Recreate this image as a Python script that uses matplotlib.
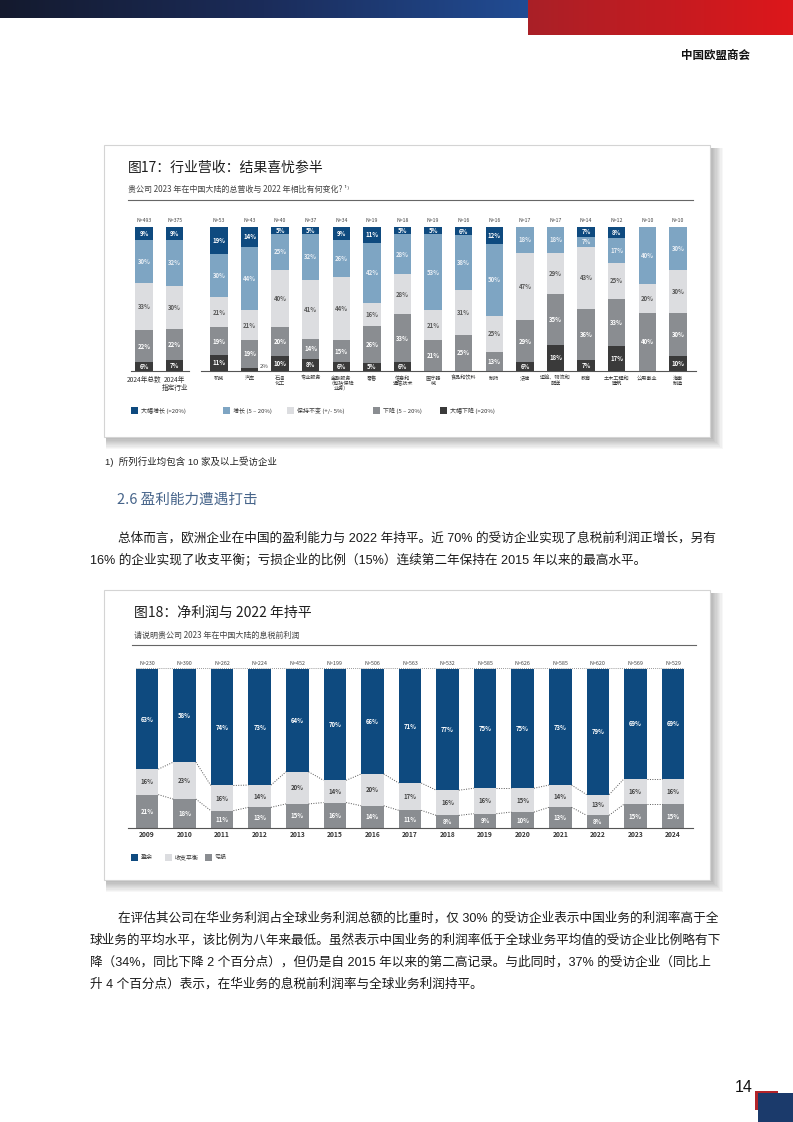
import numpy as np
import matplotlib.pyplot as plt
from matplotlib.patches import Rectangle
from matplotlib.colors import LinearSegmentedColormap

plt.rcParams['font.family'] = ['Noto Sans CJK SC', 'DejaVu Sans']

W, H = 793, 1122

# ---- 图17 数据 ----
industries = ['2024年总数', '2024年\n指定行业', '机械', '汽车', '石油\n化工', '专业服务',
              '金融服务\n（包括保险\n业务）', '零售', '信息和\n通信技术', '医疗器\n械',
              '食品和饮料', '制药', '法律', '运输、物流和\n配送', '教育', '土木工程和\n建筑',
              '公用事业', '海事\n制造']
n_17 = [493, 375, 53, 43, 40, 37, 34, 19, 18, 19, 16, 16, 17, 17, 14, 12, 10, 10]
big_growth = [9, 9, 19, 14, 5, 5, 9, 11, 5, 5, 6, 12, 0, 0, 7, 8, 0, 0]
growth = [30, 32, 30, 44, 25, 32, 26, 42, 28, 53, 38, 50, 18, 18, 7, 17, 40, 30]
unchanged = [33, 30, 21, 21, 40, 41, 44, 16, 28, 21, 31, 25, 47, 29, 43, 25, 20, 30]
decline = [22, 22, 19, 19, 20, 14, 15, 26, 33, 21, 25, 13, 29, 35, 36, 33, 40, 30]
big_decline = [6, 7, 11, 2, 10, 8, 6, 5, 6, 0, 0, 0, 6, 18, 7, 17, 0, 10]
legend_17 = ['大幅增长 (>20%)', '增长 (5 – 20%)', '保持不变 (+/- 5%)',
             '下降 (5 – 20%)', '大幅下降 (>20%)']

# ---- 图18 数据 ----
years = ['2009', '2010', '2011', '2012', '2013', '2015', '2016', '2017',
         '2018', '2019', '2020', '2021', '2022', '2023', '2024']
n_18 = [230, 390, 262, 224, 452, 199, 506, 563, 532, 585, 626, 585, 620, 569, 529]
profit = [63, 58, 74, 73, 64, 70, 66, 71, 77, 75, 75, 73, 79, 69, 69]
breakeven = [16, 23, 16, 14, 20, 14, 20, 17, 16, 16, 15, 14, 13, 16, 16]
loss = [21, 18, 11, 13, 15, 16, 14, 11, 8, 9, 10, 13, 8, 15, 15]
legend_18 = ['盈余', '收支平衡', '亏损']

para1 = ['总体而言，欧洲企业在中国的盈利能力与 2022 年持平。近 70% 的受访企业实现了息税前利润正增长，另有',
         '16% 的企业实现了收支平衡；亏损企业的比例（15%）连续第二年保持在 2015 年以来的最高水平。']
para2 = ['在评估其公司在华业务利润占全球业务利润总额的比重时，仅 30% 的受访企业表示中国业务的利润率高于全',
         '球业务的平均水平，该比例为八年来最低。虽然表示中国业务的利润率低于全球业务平均值的受访企业比例略有下',
         '降（34%，同比下降 2 个百分点），但仍是自 2015 年以来的第二高记录。与此同时，37% 的受访企业（同比上',
         '升 4 个百分点）表示，在华业务的息税前利润率与全球业务利润持平。']

DARK_BLUE = '#0e4a7f'
LIGHT_BLUE = '#7ea5c3'
LIGHT_GREY = '#dcdde0'
GREY = '#8a8d91'
DARK = '#3a3a3a'
BODY = ['Liberation Sans', 'Noto Sans CJK SC']

fig = plt.figure(figsize=(W / 100, H / 100), dpi=100)


def fx(x):
    return x / W


def fy(y):
    return 1 - y / H


def ftext(x, y, s, **kw):
    kw.setdefault('va', 'center')
    fig.text(fx(x), fy(y), s, **kw)


def frect(x0, y0, x1, y1, **kw):
    r = Rectangle((fx(x0), fy(y1)), (x1 - x0) / W, (y1 - y0) / H,
                  transform=fig.transFigure, **kw)
    fig.patches.append(r)


def band(x0, y0, x1, y1, cols):
    a = fig.add_axes([fx(x0), fy(y1), (x1 - x0) / W, (y1 - y0) / H])
    cmap = LinearSegmentedColormap.from_list('g', cols)
    a.imshow(np.linspace(0, 1, 256).reshape(1, -1), aspect='auto', cmap=cmap)
    a.axis('off')


def panel(x0, y0, x1, y1):
    for k in range(10, 0, -1):
        frect(x0 + 2, y0 + 3, x1 + k * 1.3, y1 + k * 1.2,
              facecolor='black', alpha=0.03, lw=0, zorder=-6)
    frect(x0, y0, x1, y1, facecolor='white', edgecolor='#d4d4d4', lw=0.8, zorder=-5)


# header
band(0, 0, 528, 18, ['#141a2e', '#1b2c5a', '#214c93'])
band(528, 0, W, 35, ['#a92027', '#dd171b'])
ftext(715, 55, '中国欧盟商会', fontsize=8.3, fontweight='bold', ha='center', color='#111')

# ================= 图17 =================
panel(104, 145, 710, 437)
ftext(128, 168, '图17：行业营收：结果喜忧参半', fontsize=10, color='#1e1e1e')
ftext(128, 189, '贵公司 2023 年在中国大陆的总营收与 2022 年相比有何变化? ¹⁾', fontsize=5.8, color='#444')
fig.add_artist(plt.Line2D([fx(128), fx(693)], [fy(200), fy(200)], color='#666', lw=0.8))

ax1 = fig.add_axes([fx(105), fy(445), 600 / W, 240 / H])
x1 = np.array([0, 1] + [2.45 + i for i in range(16)])
# 30.6 px per bar slot, first bar at px 144, baseline px 370.5, 1.437 px per percent
ax1.set_xlim((105 - 144) / 30.6, (705 - 144) / 30.6)
ax1.set_ylim((370.5 - 445) / 1.437, (370.5 - 205) / 1.437)
ax1.axis('off')

series17 = [big_decline, decline, unchanged, growth, big_growth]
cols17 = [DARK, GREY, LIGHT_GREY, LIGHT_BLUE, DARK_BLUE]
tcols17 = ['white', 'white', '#5a5a5a', '#e9eef4', 'white']
bottom = np.zeros(len(x1))
for vals, c, tc in zip(series17, cols17, tcols17):
    vals = np.array(vals, dtype=float)
    ax1.bar(x1, vals, 0.57, bottom=bottom, color=c, lw=0)
    for xi, b, v in zip(x1, bottom, vals):
        if v >= 4:
            ax1.text(xi, b + v / 2, f'{v:.0f}%', ha='center', va='center',
                     fontsize=4.3, color=tc, fontweight='bold')
        elif v > 0:
            ax1.text(xi + 0.33, b + v / 2 + 1.5, f'{v:.0f}%', ha='left', va='center',
                     fontsize=4.3, color='#444')
    bottom += vals

for xi, n in zip(x1, n_17):
    ax1.text(xi, 104.5, f'N={n}', ha='center', va='center', fontsize=3.7,
             color='#444', fontweight='medium')
for i, (xi, lab) in enumerate(zip(x1, industries)):
    if i < 2:
        ax1.text(xi, -3.5, lab, ha='center', va='top', fontsize=4.8, color='#333', linespacing=1.0)
    else:
        ax1.text(xi, -3.5, lab, ha='center', va='top', fontsize=3.7, color='#333', linespacing=1.05)
ax1.plot([-0.43, 1.48], [0, 0], color='#555', lw=0.8)
ax1.plot([1.85, 18.05], [0, 0], color='#555', lw=0.8)

for lx, lab, c in zip([131, 223, 287, 373, 440], legend_17, cols17[::-1]):
    frect(lx, 407, lx + 6.5, 413.5, facecolor=c, lw=0, zorder=2)
    ftext(lx + 10, 410.5, lab, fontsize=4.3, color='#333')

ftext(105, 462, '1)  所列行业均包含 10 家及以上受访企业', fontsize=6.8, color='#222', family=BODY)
ftext(117, 500, '2.6 盈利能力遭遇打击', fontsize=10.5, color='#46648a')

for i, line in enumerate(para1):
    ftext(118 if i == 0 else 90, 538 + 22 * i, line, fontsize=9.1, color='#1a1a1a', family=BODY)

# ================= 图18 =================
panel(104, 590, 710, 880)
ftext(134, 613, '图18：净利润与 2022 年持平', fontsize=10, color='#1e1e1e')
ftext(134, 635, '请说明贵公司 2023 年在中国大陆的息税前利润', fontsize=5.8, color='#444')
fig.add_artist(plt.Line2D([fx(132), fx(696)], [fy(645), fy(645)], color='#666', lw=0.8))

ax2 = fig.add_axes([fx(105), fy(875), 600 / W, 225 / H])
x2 = np.arange(len(years))
# 37.57 px per bar, first bar at px 147, baseline px 828, 1.59 px per percent
ax2.set_xlim((105 - 147) / 37.57, (705 - 147) / 37.57)
ax2.set_ylim((828 - 875) / 1.59, (828 - 650) / 1.59)
ax2.axis('off')

tot = np.array(profit) + np.array(breakeven) + np.array(loss)
series18 = [loss, breakeven, profit]
cols18 = [GREY, LIGHT_GREY, DARK_BLUE]
tcols18 = ['white', '#444', 'white']
bottom = np.zeros(len(x2))
bounds = []
for vals, c, tc in zip(series18, cols18, tcols18):
    raw = np.array(vals, dtype=float)
    h = raw / tot * 100
    ax2.bar(x2, h, 0.6, bottom=bottom, color=c, lw=0)
    for xi, b, hv, v in zip(x2, bottom, h, raw):
        ax2.text(xi, b + hv / 2, f'{v:.0f}%', ha='center', va='center',
                 fontsize=4.3, color=tc, fontweight='bold')
    bottom = bottom + h
    bounds.append(bottom.copy())

for b in bounds[:2]:
    for i in range(len(x2) - 1):
        ax2.plot([x2[i] + 0.3, x2[i + 1] - 0.3], [b[i], b[i + 1]],
                 ls=(0, (1, 1.5)), color='#555', lw=0.7)
ax2.plot([-0.3, len(x2) - 0.7], [100.6, 100.6], ls=(0, (1, 1.5)), color='#777', lw=0.6)
for xi, n in zip(x2, n_18):
    ax2.text(xi, 103.5, f'N={n}', ha='center', va='center', fontsize=3.9,
             color='#444', fontweight='medium')
for xi, yr in zip(x2, years):
    ax2.text(xi, -3.8, yr, ha='center', va='center', fontsize=4.8, color='#333', fontweight='bold')
ax2.plot([-0.51, 14.53], [0, 0], color='#555', lw=0.8)

for lx, lab, c in zip([131, 165, 205], legend_18, cols18[::-1]):
    frect(lx, 854, lx + 6.5, 860.5, facecolor=c, lw=0, zorder=2)
    ftext(lx + 10, 857.5, lab, fontsize=4.3, color='#333')

for i, line in enumerate(para2):
    ftext(118 if i == 0 else 90, 918 + 22 * i, line, fontsize=9.1, color='#1a1a1a', family=BODY)

# footer
ftext(744, 1087, '14', fontsize=11.5, ha='center', color='#111', family=BODY)
frect(755, 1091, 778, 1110, facecolor='#b3242a', lw=0, zorder=2)
frect(758, 1093, W, H, facecolor='#1b3a6b', lw=0, zorder=3)

fig.savefig('out.png', dpi=100)
